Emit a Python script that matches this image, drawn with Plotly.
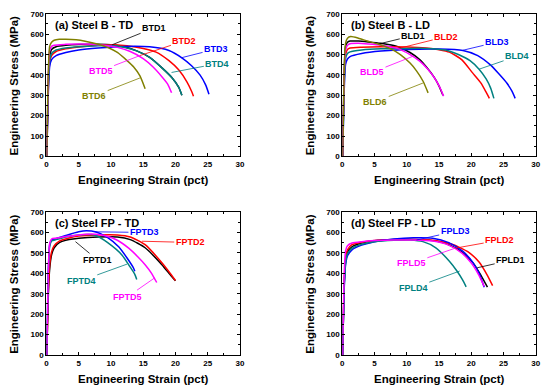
import plotly.graph_objects as go

FONT = "Liberation Sans, Arial, sans-serif"

# ---------------- data (strain in pct, stress in MPa) ----------------
# Panel (a) Steel B - TD
btd1_x = [0.05, 0.3, 0.5, 0.8, 1.5, 3, 5, 8, 10, 12, 14, 16, 18, 19.5, 20.5, 21.0]
btd1_y = [0, 380, 490, 525, 538, 545, 549, 550, 548, 538, 518, 486, 432, 385, 340, 300]
btd2_x = [0.05, 0.3, 0.5, 0.8, 1.5, 3, 5, 8, 11, 14, 17, 19, 20.5, 21.8, 22.5, 22.8]
btd2_y = [0, 340, 460, 495, 515, 528, 537, 545, 547, 536, 512, 470, 425, 365, 320, 295]
btd3_x = [0.05, 0.3, 0.5, 0.8, 1.5, 3, 5, 8, 12, 16, 19, 21, 22.5, 23.8, 24.7, 25.2]
btd3_y = [0, 320, 440, 475, 495, 510, 522, 532, 540, 538, 520, 484, 445, 400, 350, 305]
btd4_x = [0.05, 0.3, 0.5, 0.8, 1.5, 3, 5, 8, 10, 12, 14, 16, 18, 19.5, 20.5, 21.0]
btd4_y = [0, 350, 470, 505, 522, 532, 538, 543, 544, 536, 518, 486, 432, 385, 340, 300]
btd5_x = [0.05, 0.3, 0.5, 0.8, 1.2, 3, 5, 7, 9, 11, 13, 15, 16.5, 17.8, 18.8, 19.4]
btd5_y = [0, 400, 520, 540, 546, 550, 552, 551, 546, 535, 515, 480, 440, 395, 355, 312]
btd6_x = [0.05, 0.3, 0.5, 0.8, 1.2, 2, 3, 4.6, 6, 8, 9.7, 11, 12.5, 13.5, 14.5, 15.3]
btd6_y = [0, 420, 540, 560, 570, 575, 575, 572, 565, 550, 532, 510, 470, 440, 395, 332]

# Panel (b) Steel B - LD
bld1_x = [0.05, 0.3, 0.5, 0.8, 1.2, 2.5, 4, 6, 8.5, 10.5, 12, 13.1, 14.2, 15, 15.6]
bld1_y = [0, 420, 540, 560, 566, 566, 562, 555, 540, 510, 475, 436, 390, 345, 300]
bld2_x = [0.05, 0.3, 0.5, 0.8, 1.2, 3, 6, 10, 13, 15, 16.6, 18.5, 20.2, 21.5, 22.3, 22.8]
bld2_y = [0, 380, 500, 525, 532, 536, 538, 537, 532, 524, 512, 475, 410, 360, 315, 285]
bld3_x = [0.05, 0.3, 0.5, 0.8, 1.2, 3, 6, 10, 15, 18.7, 21, 23, 24.3, 25.5, 26.3, 26.8]
bld3_y = [0, 330, 450, 478, 490, 505, 517, 525, 527, 520, 495, 448, 404, 360, 320, 285]
bld4_x = [0.05, 0.3, 0.5, 0.8, 1.2, 3, 6, 10, 13, 16, 18, 19.8, 21.2, 22.3, 23.0, 23.5]
bld4_y = [0, 360, 480, 505, 513, 522, 528, 530, 530, 522, 500, 470, 428, 380, 335, 285]
bld5_x = [0.05, 0.3, 0.5, 0.8, 1.2, 2.5, 4, 6, 8.5, 10.5, 12, 13.2, 14.3, 15.1, 15.7]
bld5_y = [0, 400, 520, 545, 553, 555, 552, 546, 530, 500, 468, 430, 385, 340, 296]
bld6_x = [0.05, 0.3, 0.5, 0.8, 1.3, 2.5, 3.9, 5.5, 7.5, 9, 10.5, 11.5, 12.5, 13.3]
bld6_y = [0, 430, 555, 580, 588, 580, 566, 552, 528, 500, 458, 420, 370, 312]

# Panel (c) Steel FP - TD
fptd1_x = [0.05, 0.3, 0.5, 0.8, 1.2, 2, 3.5, 5, 8, 11, 13, 15.3, 17.9, 19, 20]
fptd1_y = [0, 300, 420, 490, 525, 550, 565, 572, 578, 578, 565, 525, 442, 400, 363]
fptd2_x = [0.05, 0.3, 0.5, 0.8, 1.2, 2, 3.5, 5, 8, 11, 13, 15.3, 17.9, 19, 20]
fptd2_y = [0, 320, 440, 505, 535, 558, 573, 582, 588, 588, 578, 540, 452, 408, 365]
fptd3_x = [0.05, 0.3, 0.5, 0.8, 1.5, 3, 5, 6.2, 7.7, 9.5, 11.2, 12.5, 13.5, 13.7]
fptd3_y = [0, 420, 540, 563, 570, 585, 603, 608, 602, 575, 530, 475, 426, 410]
fptd4_x = [0.05, 0.3, 0.5, 0.8, 1.5, 3, 5, 6.5, 7.7, 9.5, 11.7, 13, 13.7, 14.0]
fptd4_y = [0, 410, 530, 558, 565, 578, 588, 590, 585, 550, 490, 430, 395, 370]
fptd5_x = [0.05, 0.3, 0.5, 0.8, 1.5, 3, 5, 7, 9, 11, 12.8, 14.2, 15.3, 16.3, 17.1]
fptd5_y = [0, 420, 545, 568, 572, 580, 588, 592, 585, 562, 522, 480, 442, 400, 355]

# Panel (d) Steel FP - LD
fpld1_x = [0.05, 0.3, 0.5, 0.8, 1.5, 3, 5, 8, 11, 14, 16.5, 18.7, 20.3, 21.5, 22.5]
fpld1_y = [0, 350, 460, 505, 530, 548, 560, 565, 566, 560, 540, 500, 450, 390, 332]
fpld2_x = [0.05, 0.3, 0.5, 0.8, 1.5, 3, 5, 8, 11, 14, 17, 19.5, 21.2, 22.4, 23.3]
fpld2_y = [0, 360, 470, 515, 540, 552, 560, 563, 565, 562, 542, 505, 455, 395, 340]
fpld3_x = [0.05, 0.3, 0.5, 0.8, 1.5, 3, 5, 8, 11, 14, 16.5, 18.7, 20.2, 21.2, 22.0]
fpld3_y = [0, 330, 440, 485, 515, 538, 555, 568, 574, 572, 550, 507, 455, 400, 332]
fpld4_x = [0.05, 0.3, 0.5, 0.8, 1.5, 3, 5, 8, 10.5, 12.5, 14.5, 16.6, 17.8, 18.6, 19.2]
fpld4_y = [0, 340, 450, 495, 522, 542, 555, 562, 563, 555, 525, 459, 410, 370, 334]
fpld5_x = [0.05, 0.3, 0.5, 0.8, 1.5, 3, 5, 8, 11, 14, 16.5, 18.5, 20, 21.1, 22.0]
fpld5_y = [0, 400, 510, 535, 548, 555, 560, 563, 563, 558, 538, 500, 450, 395, 336]

panel_titles = ["(a) Steel B - TD", "(b) Steel B - LD", "(c) Steel FP - TD", "(d) Steel FP - LD"]
x_ticks = [0, 5, 10, 15, 20, 25, 30]
y_ticks = [0, 100, 200, 300, 400, 500, 600, 700]
x_title = "Engineering Strain (pct)"
y_title = "Engineering Stress (MPa)"

BLACK, RED, BLUE, TEAL, MAG, OLIVE = "#000000", "#FF0000", "#0000FF", "#008080", "#FF00FF", "#808000"

# (panel index, name, x, y, colour, label text pos, leader end)
series = [
    (0, "BTD1", btd1_x, btd1_y, BLACK, (16.7, 631), (10.2, 548)),
    (0, "BTD2", btd2_x, btd2_y, RED, (21.4, 567), (14.5, 495)),
    (0, "BTD3", btd3_x, btd3_y, BLUE, (26.3, 527), (20.9, 484)),
    (0, "BTD4", btd4_x, btd4_y, TEAL, (26.5, 455), (19.4, 412)),
    (0, "BTD5", btd5_x, btd5_y, MAG, (8.4, 420), (14.5, 495)),
    (0, "BTD6", btd6_x, btd6_y, OLIVE, (7.4, 297), (14.5, 385)),
    (1, "BLD1", bld1_x, bld1_y, BLACK, (11.0, 593), (6.2, 556)),
    (1, "BLD2", bld2_x, bld2_y, RED, (16.1, 588), (9.0, 532)),
    (1, "BLD3", bld3_x, bld3_y, BLUE, (24.0, 561), (18.7, 521)),
    (1, "BLD4", bld4_x, bld4_y, TEAL, (27.1, 492), (21.2, 428)),
    (1, "BLD5", bld5_x, bld5_y, MAG, (4.6, 412), (11.0, 492)),
    (1, "BLD6", bld6_x, bld6_y, OLIVE, (5.1, 268), (12.5, 360)),
    (2, "FPTD1", fptd1_x, fptd1_y, BLACK, (7.9, 466), (4.5, 555)),
    (2, "FPTD2", fptd2_x, fptd2_y, RED, (22.3, 551), (14.8, 557)),
    (2, "FPTD3", fptd3_x, fptd3_y, BLUE, (15.2, 600), (7.5, 603)),
    (2, "FPTD4", fptd4_x, fptd4_y, TEAL, (5.4, 364), (12.5, 445)),
    (2, "FPTD5", fptd5_x, fptd5_y, MAG, (12.6, 286), (16.8, 378)),
    (3, "FPLD1", fpld1_x, fpld1_y, BLACK, (26.1, 464), (20.9, 427)),
    (3, "FPLD2", fpld2_x, fpld2_y, RED, (24.4, 562), (17.5, 523)),
    (3, "FPLD3", fpld3_x, fpld3_y, BLUE, (17.5, 605), (11.5, 563)),
    (3, "FPLD4", fpld4_x, fpld4_y, TEAL, (11.0, 328), (18.2, 411)),
    (3, "FPLD5", fpld5_x, fpld5_y, MAG, (10.7, 449), (17.5, 523)),
]

W, H = 550, 392
# plot areas in pixels (left, right, top, bottom)
areas = [(45, 241, 10, 156), (344.7, 540.7, 10, 156),
         (45, 241, 212.9, 359.3), (344.7, 540.7, 212.9, 359.3)]

fig = go.Figure()
layout = dict(width=W, height=H, margin=dict(l=0, r=0, t=0, b=0),
              paper_bgcolor="white", plot_bgcolor="white", showlegend=False,
              font=dict(family=FONT, color="black"))
annotations = []

for i, (l, r, t, b) in enumerate(areas):
    sfx = "" if i == 0 else str(i + 1)
    common = dict(showline=True, linecolor="black", linewidth=1, mirror="allticks",
                  ticks="inside", ticklen=3, tickwidth=1, tickcolor="black",
                  showgrid=False, zeroline=False, fixedrange=True,
                  tickfont=dict(family=FONT, size=8, weight="bold", color="black"))
    layout["xaxis" + sfx] = dict(common, domain=[l / W, r / W], range=[0, 30],
                                 tickvals=x_ticks, anchor="y" + sfx,
                                 minor=dict(ticks="inside", ticklen=2, dtick=2.5, tickcolor="black"))
    layout["yaxis" + sfx] = dict(common, domain=[1 - b / H, 1 - t / H], range=[0, 700],
                                 tickvals=y_ticks, anchor="x" + sfx,
                                 minor=dict(ticks="inside", ticklen=2, dtick=50, tickcolor="black"))
    # panel title
    annotations.append(dict(text=panel_titles[i], x=1.0, y=646, xref="x" + sfx, yref="y" + sfx,
                            xanchor="left", yanchor="middle", showarrow=False,
                            font=dict(family=FONT, size=11, weight="bold", color="black")))
    # axis titles
    annotations.append(dict(text=x_title, x=((l + r) / 2) / W, y=1 - (b + 24.5) / H,
                            xref="paper", yref="paper", xanchor="center", yanchor="middle",
                            showarrow=False,
                            font=dict(family=FONT, size=11.5, weight="bold", color="black")))
    annotations.append(dict(text=y_title, x=(l - 33) / W, y=1 - ((t + b) / 2 + 0.5) / H,
                            xref="paper", yref="paper", xanchor="center", yanchor="middle",
                            textangle=-90, showarrow=False,
                            font=dict(family=FONT, size=11.5, weight="bold", color="black")))

for (p, name, xs, ys, col, tpos, hpos) in series:
    sfx = "" if p == 0 else str(p + 1)
    fig.add_trace(go.Scatter(x=xs, y=ys, mode="lines", name=name,
                             line=dict(color=col, width=1.5, shape="spline", smoothing=0.6),
                             xaxis="x" + sfx, yaxis="y" + sfx, hoverinfo="skip"))
    annotations.append(dict(text=name, x=hpos[0], y=hpos[1], ax=tpos[0], ay=tpos[1],
                            xref="x" + sfx, yref="y" + sfx, axref="x" + sfx, ayref="y" + sfx,
                            showarrow=True, arrowhead=0, arrowwidth=0.8, arrowcolor=col,
                            standoff=0, startstandoff=0,
                            font=dict(family=FONT, size=9, weight="bold", color=col)))

layout["annotations"] = annotations
fig.update_layout(**layout)
fig.write_html("out.html", config={"displayModeBar": False},
               post_script="document.body.style.margin='0';")
